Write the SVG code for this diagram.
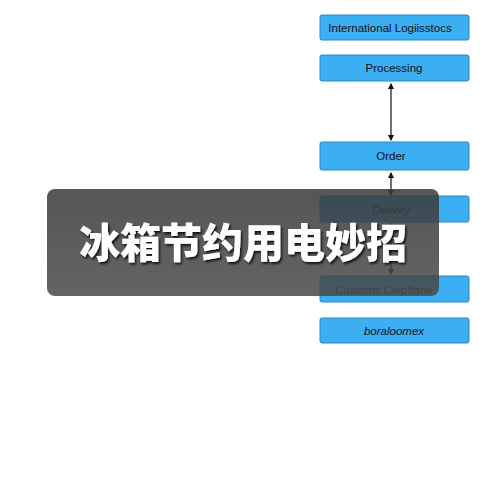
<svg xmlns="http://www.w3.org/2000/svg" width="486" height="486" viewBox="0 0 486 486">
<defs>
<style>
.node rect{fill:#3caef2;stroke:#2b86c8;stroke-width:1}
.node text{font-family:"Liberation Sans",Arial,sans-serif;font-size:11.5px;fill:#111;text-anchor:middle}
.conn line{stroke:#111;stroke-width:1.2}
.title{font-family:"Noto Sans CJK SC",sans-serif;font-weight:900;font-size:41px;fill:#fff;text-anchor:middle}
</style>
<marker id="ah" viewBox="0 0 6 6" refX="5" refY="3" markerWidth="5" markerHeight="5" orient="auto-start-reverse"><path d="M0,0 L6,3 L0,6 z" fill="#111"/></marker>
<linearGradient id="og" x1="0" y1="0" x2="0" y2="1"><stop offset="0" stop-color="#3a3a3a"/><stop offset="1" stop-color="#4a4a4a"/></linearGradient>
<filter id="sh" x="-10%" y="-10%" width="120%" height="130%"><feDropShadow dx="1.5" dy="2" stdDeviation="0.8" flood-color="#000" flood-opacity="0.8"/></filter>
</defs>
<rect width="486" height="486" fill="#fff"/>
<g id="connectors" class="conn">
<line x1="391" y1="84" x2="391" y2="140" marker-start="url(#ah)" marker-end="url(#ah)"/>
<line x1="391" y1="173" x2="391" y2="195" marker-start="url(#ah)" marker-end="url(#ah)"/>
<line x1="391" y1="223" x2="391" y2="274" marker-end="url(#ah)"/>
</g>
<g id="n1" class="node"><rect x="320" y="15" width="149" height="25" rx="2"/><text x="390" y="31.5">International Logiisstocs</text></g>
<g id="n2" class="node"><rect x="320" y="55" width="149" height="26" rx="2"/><text x="394" y="72">Processing</text></g>
<g id="n3" class="node"><rect x="320" y="142" width="149" height="28" rx="2"/><text x="391" y="160">Order</text></g>
<g id="n4" class="node"><rect x="320" y="196" width="149" height="26" rx="2"/><text x="391" y="214">Delivey</text></g>
<g id="n5" class="node"><rect x="320" y="276" width="149" height="26" rx="2"/><text x="384" y="294">Customs Clepffane</text></g>
<g id="n6" class="node"><rect x="320" y="318" width="149" height="25" rx="2"/><text x="394" y="334.5" font-style="italic">boraloomex</text></g>
<g id="overlay">
<rect x="47" y="189" width="392" height="107" rx="8" fill="url(#og)" fill-opacity="0.86"/>
<text class="title" x="243" y="258" filter="url(#sh)">冰箱节约用电妙招</text>
</g>
</svg>
